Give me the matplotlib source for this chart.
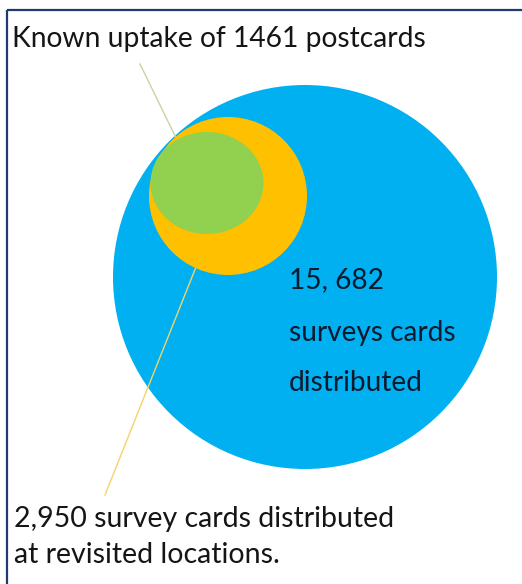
import matplotlib
matplotlib.use("Agg")
import matplotlib.pyplot as plt
from matplotlib.patches import Circle, Ellipse
import numpy as np

# Data
categories = ["Survey cards distributed", "Cards at revisited locations", "Known postcard uptake"]
values = [15682, 2950, 1461]
labels_top = "Known uptake of 1461 postcards"
label_inner = ["15, 682", "surveys cards", "distributed"]
label_bottom = ["2,950 survey cards distributed", "at revisited locations."]

colors = ["#00B0F0", "#FFC000", "#92D050"]

W, H = 522, 584
fig = plt.figure(figsize=(W / 100, H / 100), dpi=100)
ax = fig.add_axes([0, 0, 1, 1])
ax.set_xlim(0, W)
ax.set_ylim(H, 0)
ax.axis("off")

# layout (pixel space)
centers = [(305, 277), (228, 196), (207, 183)]
radii = [192, 79, 55]

font = ["Lato", "DejaVu Sans"]

# frame (top and left edges visible)
ax.plot([7, W + 5], [10, 10], color="#1F3A6E", lw=1.6, zorder=10, solid_capstyle="butt")
ax.plot([7, 7], [10, H + 5], color="#1F3A6E", lw=1.6, zorder=10, solid_capstyle="butt")

# big circle
ax.add_patch(Circle(centers[0], radii[0], facecolor=colors[0], edgecolor="none", zorder=1))
# leader lines
ax.plot([140, 178], [64, 142], color="#C9D4A0", lw=1.0, zorder=2)
ax.plot([198, 105], [262, 495], color="#F5D36A", lw=1.0, zorder=2)
# orange circle
ax.add_patch(Circle(centers[1], radii[1], facecolor=colors[1], edgecolor="none", zorder=3))
# green ellipse
ax.add_patch(Ellipse(centers[2], 2 * 56.5, 2 * 51, facecolor=colors[2], edgecolor="none", zorder=4))

tc = "#151515"
ax.text(12, 47, labels_top, fontsize=20.3, family=font, color=tc, va="baseline", ha="left", zorder=11)

inner_y = [288, 341, 391]
for t, y in zip(label_inner, inner_y):
    ax.text(289, y, t, fontsize=20.2, family=font, color="#0B1A2E", va="baseline", ha="left", zorder=11)

bottom_y = [527, 563]
for t, y in zip(label_bottom, bottom_y):
    ax.text(14, y, t, fontsize=20.5, family=font, color=tc, va="baseline", ha="left", zorder=11)

fig.savefig("out.png", dpi=100, facecolor="white")
